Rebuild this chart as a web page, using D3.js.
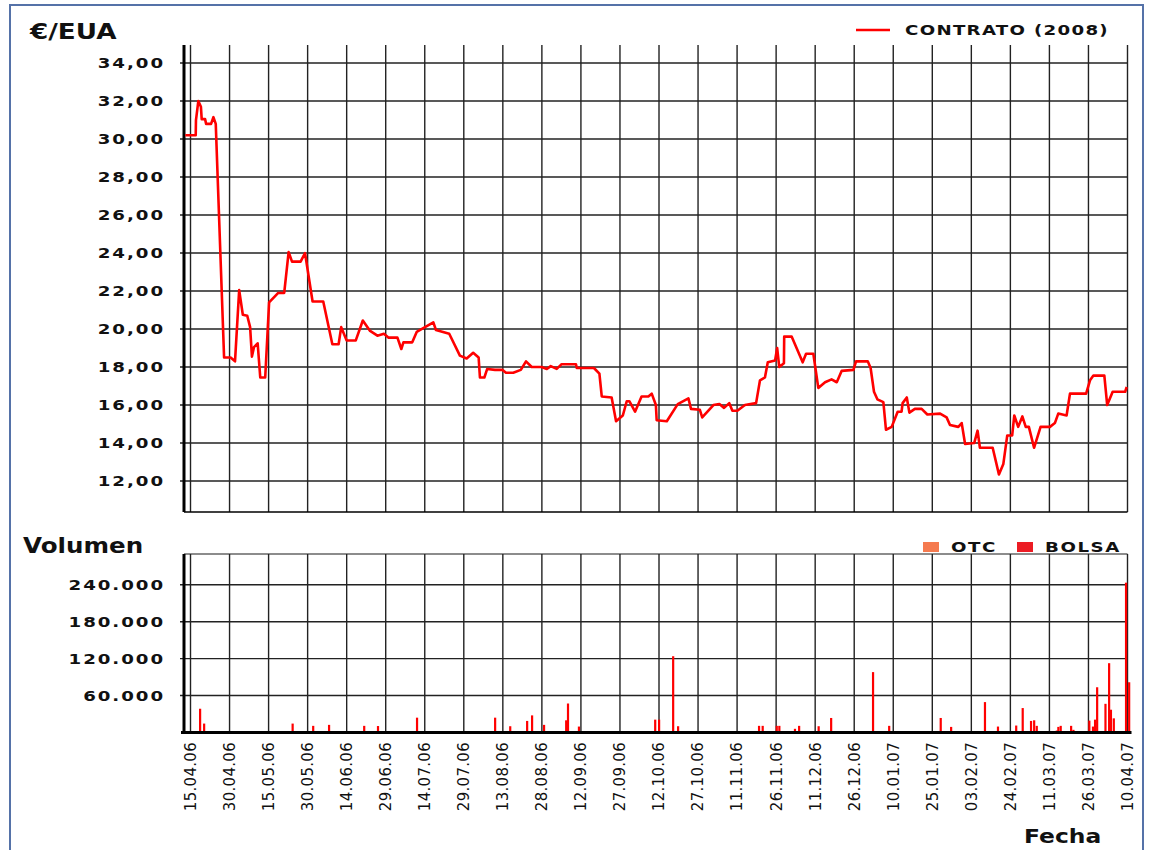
<!DOCTYPE html>
<html>
<head>
<meta charset="utf-8">
<script src="https://cdn.jsdelivr.net/npm/d3@7"></script>
<style>
    body { margin: 0; background: #ffffff; }
</style>
</head>
<body>
<svg id="chart" width="1151" height="850"></svg>
<script>

// Etiquetas del eje X (una cada 15 posiciones)
var fechas = ["15.04.06", "30.04.06", "15.05.06", "30.05.06", "14.06.06", "29.06.06", "14.07.06",
    "29.07.06", "13.08.06", "28.08.06", "12.09.06", "27.09.06", "12.10.06", "27.10.06", "11.11.06",
    "26.11.06", "11.12.06", "26.12.06", "10.01.07", "25.01.07", "03.02.07", "24.02.07", "11.03.07",
    "26.03.07", "10.04.07"];

// Precio del contrato (2008): [posicion en el eje, €/EUA]
var precio = [[-2, 30.2], [2, 30.2], [2.1, 31.0], [3, 32.0], [4, 31.7], [4.3, 31.05], [5.6, 31.05],
    [6, 30.8], [7.9, 30.8], [8.8, 31.15], [9.7, 30.8], [12.9, 18.5], [15.4, 18.5], [17.1, 18.3],
    [18.7, 22.05], [20.1, 20.75], [21.8, 20.7], [22.9, 20.1], [23.6, 18.55], [24.4, 19.05], [25.8, 19.25],
    [26.8, 17.45], [28.7, 17.45], [30.2, 21.4], [33.7, 21.9], [36.0, 21.9], [37.7, 24.05], [39.0, 23.55],
    [42.3, 23.55], [44.0, 24.0], [46.9, 21.45], [51.0, 21.45], [54.5, 19.2], [56.9, 19.2], [57.9, 20.1],
    [60.0, 19.4], [63.5, 19.4], [66.2, 20.45], [69.0, 19.9], [71.8, 19.65], [74.3, 19.75], [76.0, 19.55],
    [79.5, 19.55], [81.0, 18.95], [81.8, 19.3], [85.2, 19.3], [86.9, 19.85], [93.3, 20.35], [94.3, 19.95],
    [99.4, 19.75], [103.5, 18.6], [106.1, 18.45], [108.6, 18.75], [110.7, 18.5], [111.2, 17.45],
    [112.9, 17.45], [114.0, 17.9], [117.0, 17.85], [119.9, 17.85], [121.2, 17.7], [124.0, 17.7],
    [126.9, 17.85], [128.9, 18.3], [131.1, 18.0], [134.9, 18.0], [136.9, 17.9], [138.4, 18.05],
    [140.7, 17.9], [142.6, 18.15], [148.1, 18.15], [148.4, 17.95], [155.0, 17.95], [157.1, 17.65],
    [158.0, 16.45], [161.8, 16.4], [163.5, 15.15], [166.1, 15.45], [167.6, 16.2], [168.6, 16.2],
    [170.8, 15.65], [173.3, 16.45], [175.9, 16.45], [177.2, 16.6], [178.8, 16.0], [179.1, 15.2],
    [183.0, 15.15], [187.2, 16.05], [191.3, 16.35], [192.3, 15.8], [195.7, 15.75], [196.6, 15.35],
    [200.9, 16.0], [203.2, 16.05], [205.0, 15.85], [207.0, 16.1], [208.2, 15.7], [210.1, 15.7],
    [213.0, 16.0], [217.3, 16.1], [218.8, 17.3], [220.7, 17.45], [221.8, 18.25], [224.6, 18.35],
    [225.4, 19.0], [226.2, 18.0], [228.0, 18.2], [228.1, 19.6], [231.0, 19.6], [235.2, 18.25],
    [236.5, 18.7], [239.3, 18.7], [241.2, 16.9], [243.8, 17.2], [246.3, 17.35], [248.3, 17.2],
    [250.2, 17.8], [254.7, 17.85], [255.7, 18.3], [260.2, 18.3], [261.3, 17.95], [262.6, 16.7],
    [263.9, 16.3], [266.2, 16.15], [267.2, 14.7], [269.4, 14.85], [271.7, 15.65], [273.2, 15.65],
    [273.6, 16.1], [275.2, 16.4], [276.2, 15.6], [278.3, 15.8], [280.9, 15.8], [283.1, 15.5],
    [288.0, 15.55], [290.5, 15.35], [291.8, 14.95], [295.0, 14.85], [296.3, 15.05], [297.6, 13.95],
    [301.1, 14.0], [302.4, 14.65], [303.3, 13.75], [308.2, 13.75], [310.6, 12.35], [312.3, 12.9],
    [313.8, 14.4], [315.7, 14.4], [316.5, 15.45], [318.0, 14.85], [319.6, 15.4], [320.9, 14.85],
    [322.1, 14.85], [324.1, 13.75], [326.6, 14.85], [330.2, 14.85], [332.1, 15.05], [333.4, 15.55],
    [336.6, 15.45], [337.9, 16.6], [344.1, 16.6], [345.6, 17.3], [346.9, 17.55], [351.1, 17.55],
    [352.2, 16.0], [354.3, 16.7], [359.1, 16.7], [359.7, 16.95]];

// Volumen negociado (BOLSA): [posicion en el eje, EUA]
var volumen = [[3.65, 38600], [5.2, 14500], [39.2, 14500], [47.1, 10800], [53.2, 12400], [66.7, 10800],
    [72.0, 10500], [87.0, 24100], [117.0, 24100], [122.8, 10200], [129.3, 18800], [131.2, 27800],
    [135.8, 12400], [144.3, 19800], [145.0, 47100], [149.2, 9650], [178.5, 20900], [180.0, 20900],
    [185.4, 123900], [187.3, 10200], [218.4, 10800], [219.8, 10800], [225.2, 10800], [226.2, 10800],
    [232.2, 6000], [233.8, 10800], [241.3, 10200], [246.1, 23600], [262.2, 98100], [268.4, 10800],
    [288.2, 23600], [292.2, 9100], [305.2, 49400], [310.2, 9650], [317.2, 11300], [319.7, 39700],
    [322.9, 18800], [324.1, 19800], [325.1, 10800], [332.8, 3200], [333.4, 9100], [334.3, 10800],
    [338.3, 10800], [339.2, 4300], [345.3, 19300], [346.7, 9650], [347.5, 20900], [348.3, 73500],
    [351.5, 46600], [352.9, 112600], [353.6, 37000], [354.7, 23000], [359.4, 243400], [360.6, 81600]];

var precioTicks = [12, 14, 16, 18, 20, 22, 24, 26, 28, 30, 32, 34];
var volumenTicks = [60000, 120000, 180000, 240000];
var leyendaVol = ["OTC", "BOLSA"];

var svg = d3.select('#chart');
var plot = {"left": 184, "right": 1127.5};
var colores = {"linea": "#ff0000", "OTC": "#f57a4f", "BOLSA": "#ec1c24", "grid": "#222"};
var ancho = "DejaVu Sans";

// numeros con formato español
var es = d3.formatLocale({"decimal": ",", "thousands": ".", "grouping": [3], "currency": ["", "€"]});
var fmtPrecio = es.format(",.2f");
var fmtVol = es.format(",.0f");

var x = d3.scaleLinear().domain([-2.5, 360]).range([plot.left, plot.right]);
var yP = d3.scaleLinear().domain([10.37, 34.95]).range([512, 45]);
var yV = d3.scaleLinear().domain([0, 290000]).range([732.5, 554]);
var xTicks = fechas.map(function (d, i) { return i * 15; });

// marco exterior
svg.append('rect')
    .attr('x', 10).attr('y', 5)
    .attr('width', 1133).attr('height', 870)
    .attr('fill', 'none')
    .attr('stroke', '#5572a8')
    .attr('stroke-width', 2);

// texto ensanchado (la fuente original es "extended")
function wideText(g, px, py, txt, opts) {
    var t = g.append('g')
        .attr('transform', 'translate(' + px + ',' + py + ') scale(' + (opts.sx || 1.3) + ',1)')
        .append('text')
        .text(txt)
        .attr('font-family', ancho)
        .attr('font-weight', 'bold')
        .attr('font-size', opts.size)
        .attr('letter-spacing', opts.ls || 0)
        .attr('text-anchor', opts.anchor || 'start')
        .attr('dy', opts.dy || 0)
        .attr('fill', '#111');
    return t;
}

/******* Grafico de precio *******/
var gPrecio = svg.append('g');

gPrecio.selectAll('.hgrid')
    .data(precioTicks)
    .enter().append('line')
    .attr('x1', plot.left - 4).attr('x2', plot.right)
    .attr('y1', d => yP(d)).attr('y2', d => yP(d))
    .attr('stroke', colores.grid).attr('stroke-width', 1.4);

gPrecio.selectAll('.vgrid')
    .data(xTicks)
    .enter().append('line')
    .attr('x1', d => x(d)).attr('x2', d => x(d))
    .attr('y1', yP.range()[1]).attr('y2', yP.range()[0])
    .attr('stroke', colores.grid).attr('stroke-width', 1.4);

gPrecio.append('line')
    .attr('x1', plot.left).attr('x2', plot.right)
    .attr('y1', yP.range()[0]).attr('y2', yP.range()[0])
    .attr('stroke', '#000').attr('stroke-width', 1.5);

gPrecio.append('line')
    .attr('x1', plot.left).attr('x2', plot.left)
    .attr('y1', yP.range()[1]).attr('y2', yP.range()[0])
    .attr('stroke', '#000').attr('stroke-width', 3);

precioTicks.forEach(function (d) {
    wideText(gPrecio, 165, yP(d), fmtPrecio(d), {"size": 14, "ls": 1.5, "anchor": "end", "dy": "0.36em"});
});

var linea = d3.line()
    .x(d => x(d[0]))
    .y(d => yP(d[1]));

gPrecio.append('path')
    .datum(precio)
    .attr('d', linea)
    .attr('fill', 'none')
    .attr('stroke', colores.linea)
    .attr('stroke-width', 2.6)
    .attr('stroke-linejoin', 'round');

wideText(gPrecio, 30, 39, "€/EUA", {"size": 21, "sx": 1.25});

// leyenda superior
gPrecio.append('line')
    .attr('x1', 856).attr('x2', 890)
    .attr('y1', 30).attr('y2', 30)
    .attr('stroke', colores.linea).attr('stroke-width', 2.6);
wideText(gPrecio, 905, 30, "CONTRATO (2008)", {"size": 14, "ls": 1, "dy": "0.36em"});

/******* Grafico de volumen *******/
var gVol = svg.append('g');

gVol.append('line')
    .attr('x1', plot.left).attr('x2', plot.right)
    .attr('y1', yV.range()[1]).attr('y2', yV.range()[1])
    .attr('stroke', '#666').attr('stroke-width', 1.4);

gVol.selectAll('.hgrid')
    .data(volumenTicks)
    .enter().append('line')
    .attr('x1', plot.left - 4).attr('x2', plot.right)
    .attr('y1', d => yV(d)).attr('y2', d => yV(d))
    .attr('stroke', colores.grid).attr('stroke-width', 1.4);

gVol.selectAll('.vgrid')
    .data(xTicks)
    .enter().append('line')
    .attr('x1', d => x(d)).attr('x2', d => x(d))
    .attr('y1', yV.range()[1]).attr('y2', yV.range()[0])
    .attr('stroke', colores.grid).attr('stroke-width', 1.4);

gVol.selectAll('.bar')
    .data(volumen)
    .enter().append('rect')
    .attr('x', d => x(d[0]) - 1)
    .attr('width', 2.2)
    .attr('y', d => yV(d[1]))
    .attr('height', d => yV(0) - yV(d[1]))
    .attr('fill', colores.linea);

gVol.append('line')
    .attr('x1', plot.left - 3).attr('x2', plot.right + 4)
    .attr('y1', yV(0)).attr('y2', yV(0))
    .attr('stroke', '#000').attr('stroke-width', 3);

gVol.append('line')
    .attr('x1', plot.left).attr('x2', plot.left)
    .attr('y1', yV.range()[1]).attr('y2', yV(0))
    .attr('stroke', '#000').attr('stroke-width', 3);

volumenTicks.forEach(function (d) {
    wideText(gVol, 165, yV(d), fmtVol(d), {"size": 14, "ls": 1.5, "anchor": "end", "dy": "0.36em"});
});

// etiquetas de fecha giradas
gVol.selectAll('.fecha')
    .data(xTicks)
    .enter().append('text')
    .attr('transform', d => 'translate(' + x(d) + ',742) rotate(-90)')
    .attr('text-anchor', 'end')
    .attr('dy', '0.36em')
    .attr('font-family', ancho)
    .attr('font-size', 15)
    .attr('letter-spacing', 0.3)
    .attr('fill', '#111')
    .text((d, i) => fechas[i]);

wideText(gVol, 23, 553, "Volumen", {"size": 21, "sx": 1.17});
wideText(gVol, 1024, 843, "Fecha", {"size": 20, "sx": 1.17});

// leyenda inferior
var legX = {"OTC": 923, "BOLSA": 1017};
leyendaVol.forEach(function (k) {
    gVol.append('rect')
        .attr('x', legX[k]).attr('y', 542)
        .attr('width', 16).attr('height', 10)
        .attr('fill', colores[k]);
    wideText(gVol, legX[k] + 28, 547, k, {"size": 14, "ls": 1.2, "dy": "0.36em"});
});

</script>
</body>
</html>
